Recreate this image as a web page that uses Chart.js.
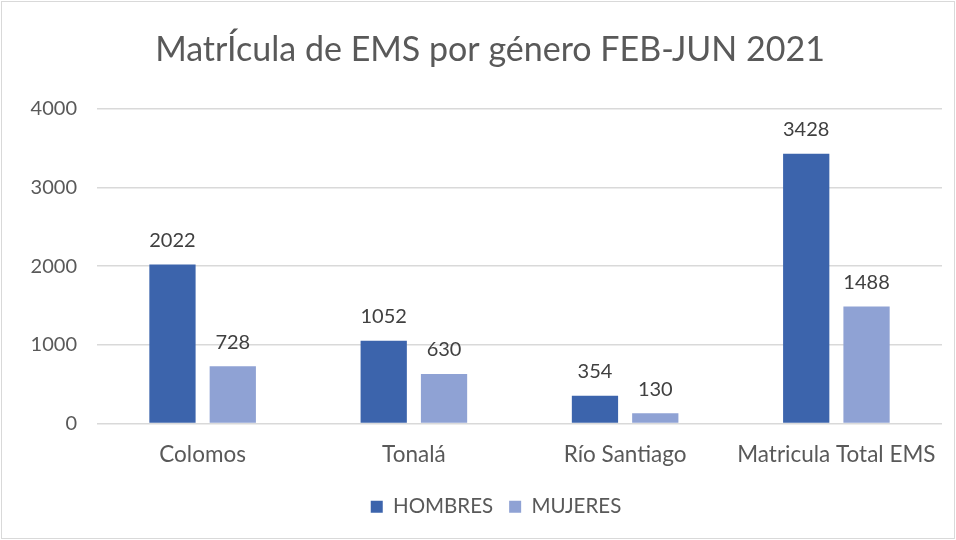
<!DOCTYPE html>
<html>
<head>
<meta charset="utf-8">
<script src="https://cdn.jsdelivr.net/npm/chart.js@4/dist/chart.umd.min.js"></script>
<style>
  html, body { margin: 0; padding: 0; background: #fff; }
  #wrap { width: 956px; height: 540px; }
</style>
</head>
<body>
<div id="wrap"><canvas id="grafica" width="956" height="540"></canvas></div>
<script>
// datos de la gráfica
const planteles = ['Colomos', 'Tonalá', 'Río Santiago', 'Matricula Total EMS'];
const hombres = [2022, 1052, 354, 3428];
const mujeres = [728, 630, 130, 1488];
const ticksY = [0, 1000, 2000, 3000, 4000];

const fuente = 'Lato, "Open Sans", sans-serif';
const gris = '#595959';

// etiquetas encima de las barras
const etiquetas = {
    id: 'etiquetas',
    afterDatasetsDraw(chart) {
        const ctx = chart.ctx;
        ctx.save();
        ctx.font = '20px ' + fuente;
        ctx.fillStyle = '#404040';
        ctx.textAlign = 'center';
        ctx.textBaseline = 'bottom';
        chart.data.datasets.forEach((ds, i) => {
            chart.getDatasetMeta(i).data.forEach((bar, j) => {
                ctx.fillText(ds.data[j], bar.x, bar.y - 14);
            });
        });
        ctx.restore();
    }
};

// el título y la leyenda van un poco a la derecha, como en el original
const desplazar = {
    id: 'desplazar',
    afterLayout(chart) {
        chart.titleBlock.left += 9;
        chart.titleBlock.right += 9;
        chart.legend.left += 15;
        chart.legend.right += 15;
    }
};

// marco gris alrededor
const marco = {
    id: 'marco',
    afterDraw(chart) {
        const ctx = chart.ctx;
        ctx.save();
        ctx.strokeStyle = '#d9d9d9';
        ctx.lineWidth = 1;
        ctx.strokeRect(1.5, 1.5, chart.width - 3, chart.height - 3);
        ctx.restore();
    }
};

new Chart(document.getElementById('grafica'), {
    type: 'bar',
    data: {
        labels: planteles,
        datasets: [
            { label: 'HOMBRES', data: hombres, backgroundColor: '#3C64AC' },
            { label: 'MUJERES', data: mujeres, backgroundColor: '#8FA2D4' }
        ]
    },
    options: {
        responsive: false,
        animation: false,
        categoryPercentage: 0.571,
        barPercentage: 0.767,
        layout: { padding: { left: 20, right: 14, top: 10, bottom: 13 } },
        plugins: {
            title: {
                display: true,
                text: 'MatrÍcula de EMS por género FEB-JUN 2021',
                color: gris,
                font: { family: fuente, size: 34, weight: 'normal' },
                padding: { top: 20, bottom: 38 }
            },
            legend: {
                position: 'bottom',
                labels: {
                    color: gris,
                    font: { family: fuente, size: 20.5 },
                    boxWidth: 12,
                    boxHeight: 12,
                    padding: 16
                }
            },
            tooltip: { enabled: false }
        },
        scales: {
            x: {
                grid: { display: false },
                border: { display: false },
                afterFit(scale) { scale.height += 2; },
                ticks: { color: gris, font: { family: fuente, size: 22.5 }, padding: 10 }
            },
            y: {
                min: 0,
                max: 4000,
                afterBuildTicks(scale) {
                    scale.ticks = ticksY.map(v => ({ value: v }));
                },
                afterFit(scale) { scale.width = 77; },
                grid: { color: '#d9d9d9', lineWidth: 1.5, drawTicks: false },
                border: { display: false },
                ticks: {
                    color: gris,
                    font: { family: fuente, size: 20 },
                    padding: 20,
                    callback: v => String(v)
                }
            }
        }
    },
    plugins: [etiquetas, desplazar, marco]
});
</script>
</body>
</html>
